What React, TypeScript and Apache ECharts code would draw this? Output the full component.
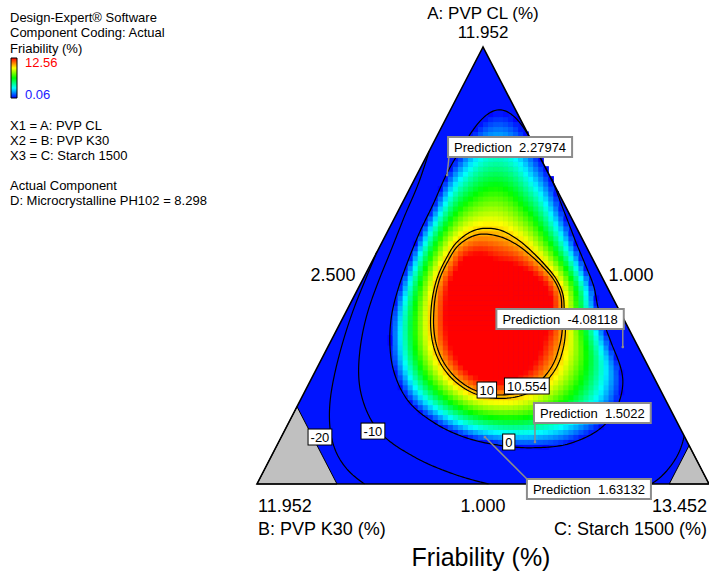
import React, { useEffect, useRef } from "react";
import * as echarts from "echarts";

// ---------------- data ----------------
const headerLines = ["Design-Expert® Software", "Component Coding: Actual", "Friability (%)"];
const colorBarMax = 12.56;
const colorBarMin = 0.06;
const factorLines = ["X1 = A: PVP CL", "X2 = B: PVP K30", "X3 = C: Starch 1500"];
const actualLines = ["Actual Component", "D: Microcrystalline PH102 = 8.298"];

const componentNames = ["A: PVP CL (%)", "B: PVP K30 (%)", "C: Starch 1500 (%)"];
const vertexLabels = ["11.952", "11.952", "13.452"]; // A, B, C maxima
const edgeLabels = ["2.500", "1.000", "1.000"]; // left (A-B), right (A-C), bottom (B-C)
const chartTitle = "Friability (%)";

// constraint limits (ternary fractions) that grey out the corners
const bLimit = 0.823;
const cLimit = 0.912;

// contour levels and their labels (ternary a, b, c positions)
const contourLevels = [-20, -10, 0, 10, 10.554];
const contourLabelTexts = ["-20", "-10", "0", "10", "10.554"];
const contourLabelPoints = [
  [0.1075, 0.807, 0.0855],
  [0.121, 0.683, 0.196],
  [0.096, 0.395, 0.509],
  [0.215, 0.384, 0.401],
  [0.224, 0.291, 0.485],
];

// prediction flags
const predictionValues = [2.27974, -4.08118, 1.5022, 1.63132];
const predictionPoints = [
  [0.707, 0.226, 0.067],
  [0.3135, 0.034, 0.6525],
  [0.0961, 0.337, 0.5669],
  [0.1075, 0.442, 0.4505],
];

// response surface: optimum and contour radii (fraction of
// triangle height) for the 10 and 0 levels, every 15 degrees round the optimum
const surfacePeak = 16;
const surfaceOptimum = [0.394, 0.27, 0.336];
const radius10 = [0.152, 0.154, 0.153, 0.152, 0.158, 0.172, 0.189, 0.196, 0.188, 0.172, 0.162, 0.156,
  0.155, 0.16, 0.169, 0.179, 0.188, 0.195, 0.198, 0.199, 0.196, 0.186, 0.172, 0.16];
const radius0 = [0.232, 0.227, 0.228, 0.245, 0.288, 0.37, 0.47, 0.39, 0.308, 0.27, 0.25, 0.246,
  0.252, 0.262, 0.277, 0.29, 0.293, 0.297, 0.305, 0.322, 0.345, 0.355, 0.33, 0.268];
const outerDepth = [25, 25, 25, 25, 25, 25, 25, 25, 28, 30, 30, 30, 30, 30, 30, 30, 28, 26, 25, 25, 25, 25, 25, 25];
const edgeDropAB = 25;
const edgeDropWidth = 0.04;

const rainbow = ["#0000ff", "#00ffff", "#00ff00", "#ffff00", "#ff0000"];

// ---------------- layout ----------------
const W = 709;
const H = 571;
const GRID = { left: 257, top: 47, width: 452, height: 437 };
const ASPECT = GRID.width / GRID.height;
const FONT = 'Arial, "Liberation Sans", Helvetica, sans-serif';

function toXY(t: number[]): [number, number] {
  const [a, , c] = t;
  return [c + a / 2, a];
}

function catmull(arr: number[], t: number) {
  const n = arr.length;
  const i = Math.floor(t);
  const u = t - i;
  const g = (k: number) => arr[((k % n) + n) % n];
  const p0 = g(i - 1), p1 = g(i), p2 = g(i + 1), p3 = g(i + 2);
  return 0.5 * (2 * p1 + (-p0 + p2) * u + (2 * p0 - 5 * p1 + 4 * p2 - p3) * u * u + (-p0 + 3 * p1 - 3 * p2 + p3) * u * u * u);
}

const centre = toXY(surfaceOptimum);

function surface(X: number, Y: number) {
  const dx = (X - centre[0]) * ASPECT;
  const dy = Y - centre[1];
  const r = Math.hypot(dx, dy);
  let th = (Math.atan2(dy, dx) * 180) / Math.PI;
  if (th < 0) th += 360;
  const t = th / (360 / radius10.length);
  const r10 = catmull(radius10, t);
  const r0 = catmull(radius0, t);
  const D = catmull(outerDepth, t);
  const P = surfacePeak;
  const q10 = -Math.log((10 + D) / (P + D));
  const q0 = -Math.log(D / (P + D));
  const p = Math.log(q0 / q10) / Math.log(r0 / r10);
  const s = r10 / Math.pow(q10, 1 / p);
  const q = Math.pow(r / s, p);
  const a = Y;
  const c = X - Y / 2;
  return -D + (P + D) * Math.exp(-q) - edgeDropAB * (1 - a) * Math.exp(-Math.max(c, 0) / edgeDropWidth);
}

function feasible(X: number, Y: number, tol = 0) {
  const a = Y;
  const c = X - Y / 2;
  const b = 1 - a - c;
  return a >= -tol && b >= -tol && c >= -tol && b <= bLimit + tol && c <= cLimit + tol;
}

function buildCells() {
  const NX = 90, NY = 88;
  const cells: number[][] = [];
  for (let j = 0; j < NY; j++) {
    for (let i = 0; i < NX; i++) {
      const X = (i + 0.5) / NX;
      const Y = (j + 0.5) / NY;
      if (!feasible(X, Y)) continue;
      const v = surface(X, Y);
      if (v <= colorBarMin) continue;
      cells.push([X, Y, Math.min(v, colorBarMax)]);
    }
  }
  return { cells, hx: 0.5 / NX, hy: 0.5 / NY };
}

function buildContours() {
  const NX = 226, NY = 218;
  const V = new Float64Array((NX + 1) * (NY + 1));
  for (let j = 0; j <= NY; j++) for (let i = 0; i <= NX; i++) V[j * (NX + 1) + i] = surface(i / NX, j / NY);
  const out: { coords: number[][] }[] = [];
  for (const L of contourLevels) {
    const segs: { k1: string; k2: string; p1: number[]; p2: number[] }[] = [];
    for (let j = 0; j < NY; j++) {
      for (let i = 0; i < NX; i++) {
        const v00 = V[j * (NX + 1) + i], v10 = V[j * (NX + 1) + i + 1];
        const v01 = V[(j + 1) * (NX + 1) + i], v11 = V[(j + 1) * (NX + 1) + i + 1];
        const X0 = i / NX, X1 = (i + 1) / NX, Y0 = j / NY, Y1 = (j + 1) / NY;
        const cr: { k: string; p: number[] }[] = [];
        const tryEdge = (va: number, vb: number, key: string, pa: number[], pb: number[]) => {
          if ((va >= L) !== (vb >= L)) {
            const t = (L - va) / (vb - va);
            cr.push({ k: key, p: [pa[0] + (pb[0] - pa[0]) * t, pa[1] + (pb[1] - pa[1]) * t] });
          } else cr.push({ k: "", p: [] });
        };
        tryEdge(v00, v10, `h${i}_${j}`, [X0, Y0], [X1, Y0]);
        tryEdge(v10, v11, `v${i + 1}_${j}`, [X1, Y0], [X1, Y1]);
        tryEdge(v01, v11, `h${i}_${j + 1}`, [X0, Y1], [X1, Y1]);
        tryEdge(v00, v01, `v${i}_${j}`, [X0, Y0], [X0, Y1]);
        const idx = [0, 1, 2, 3].filter((e) => cr[e].k !== "");
        const add = (a: number, b: number) => segs.push({ k1: cr[a].k, k2: cr[b].k, p1: cr[a].p, p2: cr[b].p });
        if (idx.length === 2) add(idx[0], idx[1]);
        else if (idx.length === 4) {
          const cen = (v00 + v10 + v01 + v11) / 4;
          if ((cen >= L) === (v00 >= L)) { add(0, 1); add(2, 3); } else { add(0, 3); add(1, 2); }
        }
      }
    }
    const kept = segs.filter((s) => feasible(s.p1[0], s.p1[1], 0.001) && feasible(s.p2[0], s.p2[1], 0.001));
    const map = new Map<string, number[]>();
    kept.forEach((s, n) => {
      [s.k1, s.k2].forEach((k) => { const l = map.get(k); if (l) l.push(n); else map.set(k, [n]); });
    });
    const used = new Array(kept.length).fill(false);
    for (let n = 0; n < kept.length; n++) {
      if (used[n]) continue;
      used[n] = true;
      const pts = [kept[n].p1, kept[n].p2];
      const walk = (startKey: string, front: boolean) => {
        let key = startKey;
        for (;;) {
          const cand = (map.get(key) || []).find((m) => !used[m]);
          if (cand === undefined) break;
          used[cand] = true;
          const s = kept[cand];
          let np: number[];
          if (s.k1 === key) { np = s.p2; key = s.k2; } else { np = s.p1; key = s.k1; }
          if (front) pts.push(np); else pts.unshift(np);
        }
      };
      walk(kept[n].k2, true);
      walk(kept[n].k1, false);
      out.push({ coords: pts });
    }
  }
  return out;
}

export default function App() {
  const ref = useRef<HTMLDivElement>(null);
  useEffect(() => {
    if (!ref.current) return;
    const chart = echarts.init(ref.current, undefined, { renderer: "svg" });
    const { cells, hx, hy } = buildCells();
    const contours = buildContours();
    const triangle = [[1, 0, 0], [0, 1, 0], [0, 0, 1]].map(toXY);
    const greyB = [[0, 1, 0], [1 - bLimit, bLimit, 0], [0, bLimit, 1 - bLimit]].map(toXY);
    const greyC = [[0, 0, 1], [1 - cLimit, 0, cLimit], [0, 1 - cLimit, cLimit]].map(toXY);

    const option: any = {
      animation: false,
      grid: { left: GRID.left, top: GRID.top, width: GRID.width, height: GRID.height, containLabel: false },
      xAxis: { type: "value", min: 0, max: 1, show: false },
      yAxis: { type: "value", min: 0, max: 1, show: false },
      visualMap: {
        type: "continuous", show: false, seriesIndex: 1, dimension: 2,
        min: colorBarMin, max: colorBarMax, inRange: { color: rainbow },
      },
      series: [
        {
          type: "custom", z: 1, silent: true, clip: false, data: [[0.5, 0.5]],
          renderItem: (_p: any, api: any) => ({
            type: "polygon",
            shape: { points: triangle.map((q) => api.coord(q)) },
            style: { fill: "#0014ff", stroke: "none" },
          }),
        },
        {
          type: "custom", z: 2, silent: true, clip: false, data: cells,
          encode: { x: 0, y: 1 },
          renderItem: (_p: any, api: any) => {
            const X = api.value(0), Y = api.value(1);
            const a = api.coord([X - hx, Y + hy]);
            const b = api.coord([X + hx, Y - hy]);
            return {
              type: "rect",
              shape: { x: a[0], y: a[1], width: b[0] - a[0] + 0.6, height: b[1] - a[1] + 0.6 },
              style: { fill: api.visual("color") },
            };
          },
        },
        {
          type: "custom", z: 3, silent: true, clip: false, data: [[0.5, 0.5]],
          renderItem: (_p: any, api: any) => ({
            type: "group",
            children: [greyB, greyC].map((g) => ({
              type: "polygon",
              shape: { points: g.map((q) => api.coord(q)) },
              style: { fill: "#c0c0c0", stroke: "#000", lineWidth: 1 },
            })),
          }),
        },
        {
          type: "lines", z: 4, silent: true, coordinateSystem: "cartesian2d", polyline: true,
          data: contours, lineStyle: { color: "#000", width: 1.2, opacity: 1 },
        },
        {
          type: "custom", z: 5, silent: true, clip: false, data: [[0.5, 0.5]],
          renderItem: (_p: any, api: any) => ({
            type: "polygon",
            shape: { points: triangle.map((q) => api.coord(q)) },
            style: { fill: "none", stroke: "#000", lineWidth: 1.6 },
          }),
        },
      ],
    };
    chart.setOption(option);

    const px = (t: number[]) => chart.convertToPixel({ gridIndex: 0 }, toXY(t)) as number[];
    const g: any[] = [];
    const txt = (text: string, x: number, y: number, size: number, align = "left", fill = "#000", extra: any = {}) =>
      g.push({
        type: "text", x, y, z: 100,
        style: { text, fill, fontSize: size, fontFamily: FONT, align, verticalAlign: "middle", ...extra },
      });

    // left legend block
    headerLines.forEach((s, i) => txt(s, 10, 17 + i * 15.5, 13));
    g.push({
      type: "rect", z: 100, shape: { x: 11, y: 58, width: 6, height: 40 },
      style: {
        stroke: "#000", lineWidth: 1,
        fill: new echarts.graphic.LinearGradient(0, 0, 0, 1, [...rainbow].reverse().map((c, i) => ({ offset: i / 4, color: c }))),
      },
    });
    txt(colorBarMax.toFixed(2), 25, 62, 13, "left", "#ff0000");
    txt(colorBarMin.toFixed(2), 25, 94, 13, "left", "#2020ff");
    factorLines.forEach((s, i) => txt(s, 10, 125 + i * 15, 13));
    actualLines.forEach((s, i) => txt(s, 10, 185 + i * 15, 13));

    // axis texts
    txt(componentNames[0], 483, 13, 17, "center");
    txt(vertexLabels[0], 483, 32, 17, "center");
    txt(edgeLabels[0], 333, 275, 18, "center");
    txt(edgeLabels[1], 631, 275, 18, "center");
    txt(vertexLabels[1], 258, 506, 18, "left");
    txt(edgeLabels[2], 483, 506, 18, "center");
    txt(vertexLabels[2], 707, 506, 18, "right");
    txt(componentNames[1], 258, 529, 18, "left");
    txt(componentNames[2], 707, 529, 18, "right");
    txt(chartTitle, 481, 557, 25, "center");

    // contour labels
    contourLabelPoints.forEach((t, i) => {
      const p = px(t);
      g.push({
        type: "text", x: p[0], y: p[1], z: 110,
        style: {
          text: contourLabelTexts[i], fill: "#000", fontSize: 13, fontFamily: FONT,
          align: "center", verticalAlign: "middle", backgroundColor: "#fff",
          borderColor: "#000", borderWidth: 1, padding: [1, 2, 0, 2], lineHeight: 14,
        },
      });
    });

    // prediction flags
    const flagLayout: [number, number, string, string][] = [
      [2, -19, "left", "bottom"],
      [0, -19, "right", "bottom"],
      [0, -20, "left", "bottom"],
      [43, 43, "left", "top"],
    ];
    predictionPoints.forEach((t, i) => {
      const p = px(t);
      const [dx, dy, al, va] = flagLayout[i];
      g.push({
        type: "line", z: 105, shape: { x1: p[0], y1: p[1], x2: p[0] + dx, y2: p[1] + dy },
        style: { stroke: "#8c8c8c", lineWidth: 1.5 },
      });
      g.push({ type: "circle", z: 105, shape: { cx: p[0], cy: p[1], r: 1.3 }, style: { fill: "#8c8c8c" } });
      g.push({
        type: "text", x: p[0] + dx, y: p[1] + dy, z: 110,
        style: {
          text: `Prediction  ${predictionValues[i]}`, fill: "#000", fontSize: 13, fontFamily: FONT,
          align: al, verticalAlign: va, backgroundColor: "#fff",
          borderColor: "#8c8c8c", borderWidth: 2, padding: [2, 5, 1, 5], lineHeight: 15,
        },
      });
    });

    chart.setOption({ graphic: g });
    return () => chart.dispose();
  }, []);
  return <div ref={ref} style={{ position: "fixed", left: 0, top: 0, width: W, height: H, background: "#fff" }} />;
}
